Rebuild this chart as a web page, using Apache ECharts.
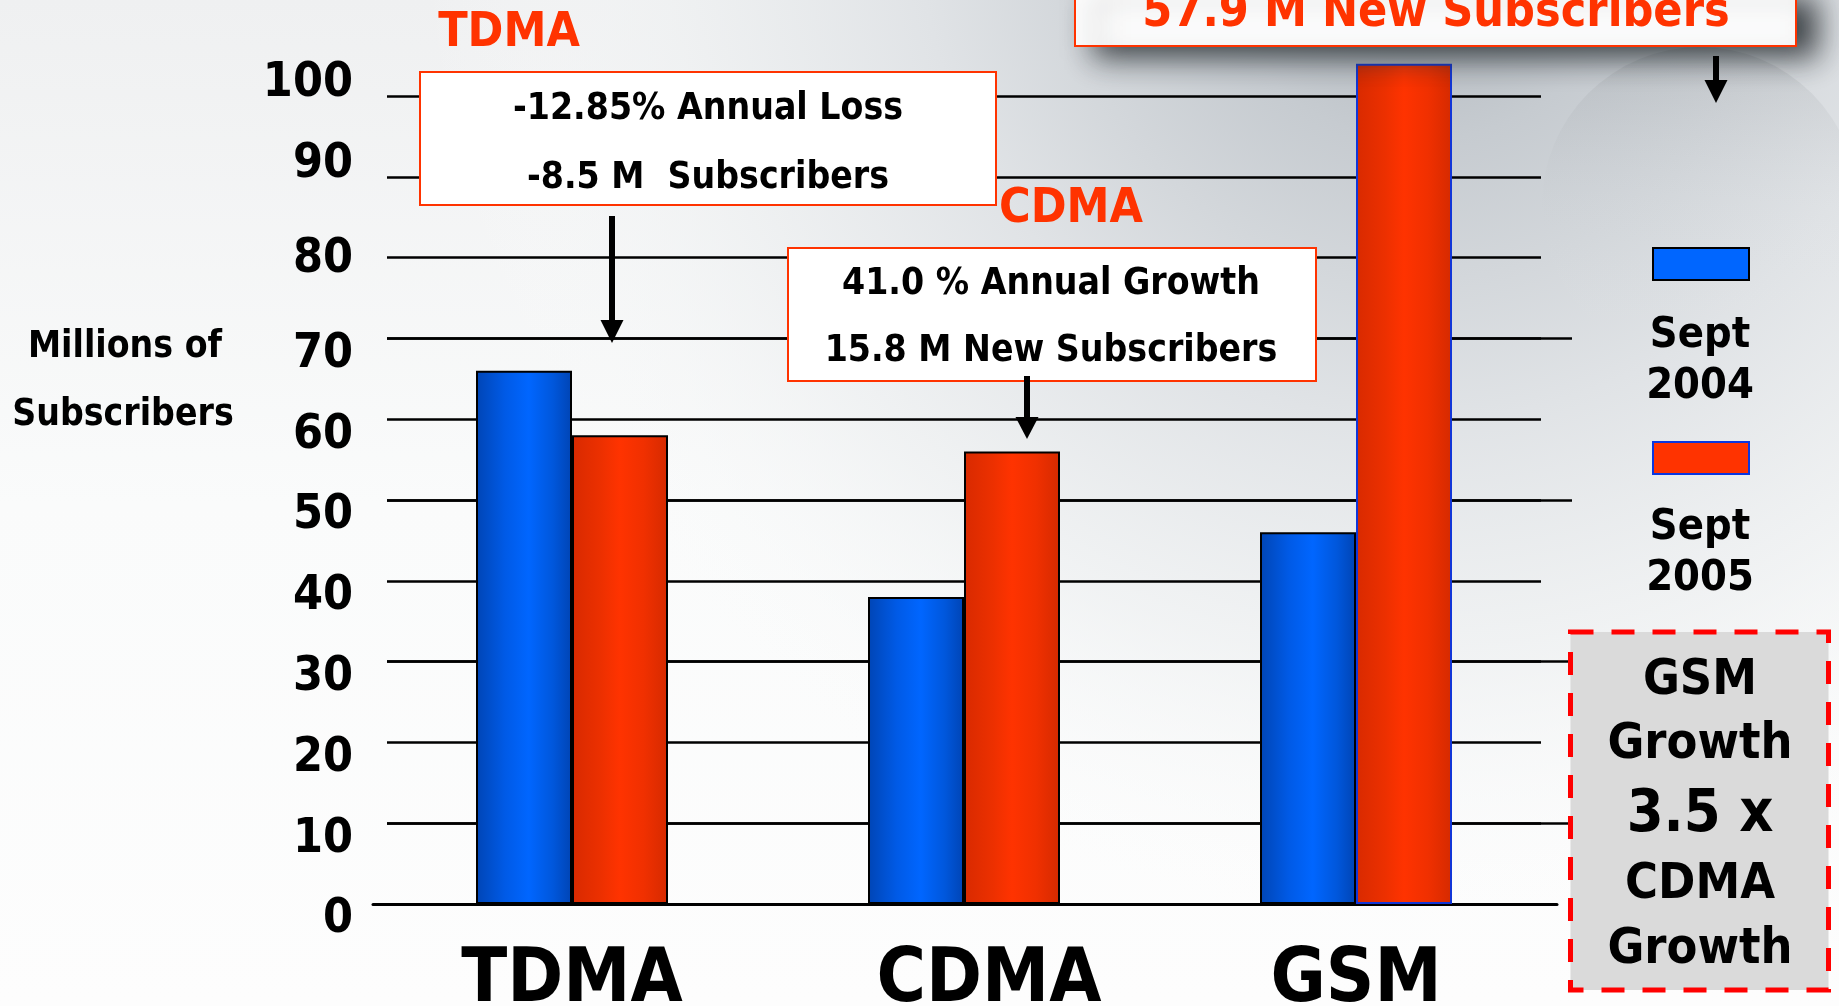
<!DOCTYPE html>
<html><head><meta charset="utf-8">
<script src="https://cdn.jsdelivr.net/npm/echarts@6/dist/echarts.min.js"></script>
<style>html,body{margin:0;padding:0;width:1839px;height:1006px;overflow:hidden;background:#fafbfb}#c{width:1839px;height:1006px}</style>
</head><body><div id="c"></div>
<script>
// ---- data ----
const categories = ['TDMA', 'CDMA', 'GSM'];
const seriesNames = ['Sept 2004', 'Sept 2005'];
const sept2004 = [66, 38, 46];
const sept2005 = [58, 56, 104];
const yMin = 0, yMax = 100, yStep = 10;
const yAxisTitle = ['Millions of', 'Subscribers'];
const tdmaNote = ['-12.85% Annual Loss', '-8.5 M  Subscribers'];
const cdmaNote = ['41.0 % Annual Growth', '15.8 M New Subscribers'];
const gsmNote = '57.9 M New Subscribers';
const gsmBox = ['GSM', 'Growth', '3.5 x', 'CDMA', 'Growth'];

// ---- styling ----
const FONT = '"DejaVu Sans Condensed","DejaVu Sans",sans-serif';
const RED = '#ff3300';
const G = echarts.graphic;
const blueGrad = new G.LinearGradient(0, 0, 1, 0, [
  {offset: 0, color: '#0045b5'}, {offset: 0.3, color: '#005ae6'},
  {offset: 0.55, color: '#0066ff'}, {offset: 0.8, color: '#0057dc'}, {offset: 1, color: '#0044b4'}]);
const redGrad = new G.LinearGradient(0, 0, 1, 0, [
  {offset: 0, color: '#d82a00'}, {offset: 0.3, color: '#ec3000'},
  {offset: 0.5, color: '#ff3300'}, {offset: 0.75, color: '#f03000'}, {offset: 1, color: '#d52a00'}]);

const TOP = 96, BOTTOM = 102;
function grid(left, right) { return {left, right, top: TOP, bottom: BOTTOM, containLabel: false, outerBoundsMode: 'none'}; }

const DY = 3;
function txt(text, x, y, size, color, z) {
  return {type: 'text', x, y: y + DY, z: z || 20, silent: true,
    style: {text, fill: color || '#000', font: 'bold ' + size + 'px ' + FONT, align: 'center', verticalAlign: 'middle'}};
}
function arrow(x, y0, yHead, yTip) {
  return [
    {type: 'rect', z: 15, silent: true, shape: {x: x - 3, y: y0, width: 6, height: yHead - y0 + 2}, style: {fill: '#000'}},
    {type: 'polygon', z: 15, silent: true, shape: {points: [[x - 11.5, yHead], [x + 11.5, yHead], [x, yTip]]}, style: {fill: '#000'}}
  ];
}
function box(x, y, w, h, extra) {
  return Object.assign({type: 'rect', z: 10, silent: true, shape: {x, y, width: w, height: h},
    style: {fill: '#ffffff', stroke: RED, lineWidth: 2}}, extra || {});
}

const extColors = [];
for (let v = yMin; v <= yMax; v += yStep) extColors.push((v >= 10 && v <= 70 && (v / 10) % 2 === 1) ? '#000' : 'rgba(0,0,0,0)');

const graphics = [
  {type: 'rect', z: -100, silent: true, shape: {x: 0, y: 0, width: 1839, height: 1006},
    style: {fill: new G.LinearGradient(0, 0, 0, 1, [{offset: 0, color: '#eff0f1'}, {offset: 0.5, color: '#fafbfb'}, {offset: 1, color: '#fdfdfd'}])}},
  {type: 'rect', z: -99, silent: true, shape: {x: 0, y: 0, width: 1839, height: 1006},
    style: {fill: new G.RadialGradient(1420, -80, 1000, [
      {offset: 0, color: 'rgba(170,176,182,1)'}, {offset: 0.22, color: 'rgba(198,203,208,1)'},
      {offset: 0.5, color: 'rgba(224,227,230,1)'}, {offset: 0.75, color: 'rgba(239,241,242,0.8)'},
      {offset: 1, color: 'rgba(250,251,251,0)'}], true)}},
  {type: 'circle', z: -98, silent: true, shape: {cx: 1700, cy: 205, r: 158},
    style: {fill: new G.LinearGradient(0, 0, 0, 1, [{offset: 0, color: 'rgba(120,125,130,0.18)'}, {offset: 0.5, color: 'rgba(200,204,208,0.05)'}, {offset: 1, color: 'rgba(255,255,255,0)'}])}},
  // TDMA annotation
  txt('TDMA', 509, 31, 48, RED),
  box(420, 72, 576, 133),
  txt(tdmaNote[0], 708, 106, 37),
  txt(tdmaNote[1], 708, 175, 37),
  ...arrow(612, 216, 320, 343),
  // CDMA annotation
  txt('CDMA', 1071, 207, 48, RED),
  box(788, 248, 528, 133),
  txt(cdmaNote[0], 1051, 281, 37),
  txt(cdmaNote[1], 1051, 348, 37),
  ...arrow(1027, 376, 417, 439),
  // GSM annotation
  box(1075, -10, 721, 56, {style: {fill: '#ffffff', stroke: RED, lineWidth: 2, shadowColor: 'rgba(40,45,50,0.9)', shadowBlur: 30, shadowOffsetX: 20, shadowOffsetY: 10}}),
  txt(gsmNote, 1436, 11, 48, RED),
  ...arrow(1716, 56, 80, 103),
  // y axis title
  txt(yAxisTitle[0], 125, 344, 37),
  txt(yAxisTitle[1], 123, 412, 37),
  // legend labels
  txt('Sept', 1700, 333, 43), txt('2004', 1700, 384, 43),
  txt('Sept', 1700, 525, 43), txt('2005', 1700, 576, 43),
  // dashed box
  {type: 'rect', z: 10, silent: true, shape: {x: 1570.5, y: 632, width: 258, height: 358},
    style: {fill: '#dadada', stroke: '#ff0000', lineWidth: 5, lineDash: [23, 18]}},
  txt(gsmBox[0], 1700, 678, 50), txt(gsmBox[1], 1700, 742, 50),
  txt(gsmBox[2], 1700, 813, 59), txt(gsmBox[3], 1700, 882, 50),
  txt(gsmBox[4], 1700, 947, 50)
];

const option = {
  animation: false,
  backgroundColor: '#fafbfb',
  grid: [grid(387, 298), grid(376, 287), grid(387, 267), grid(373, 282)],
  legend: {
    orient: 'vertical', left: 1652, top: 247, padding: 0, itemWidth: 96, itemHeight: 32, itemGap: 160,
    icon: 'rect', selectedMode: false, formatter: () => '', textStyle: {fontSize: 1},
    data: [
      {name: seriesNames[0], itemStyle: {color: '#0066ff', borderColor: '#000', borderWidth: 2}},
      {name: seriesNames[1], itemStyle: {color: '#ff3300', borderColor: '#0a36e0', borderWidth: 2}}
    ]
  },
  xAxis: [
    {gridIndex: 0, type: 'category', data: categories, show: false},
    {gridIndex: 1, type: 'category', data: categories,
      axisLine: {show: false}, axisTick: {show: false}, splitLine: {show: false},
      axisLabel: {interval: 0, hideOverlap: false, margin: 40, color: '#000', fontSize: 75, fontWeight: 'bold', fontFamily: FONT, lineHeight: 75,
        formatter: v => v === 'CDMA' ? '{s|' + v + '}' : v,
        rich: {s: {fontSize: 75, fontWeight: 'bold', fontFamily: FONT, color: '#000', lineHeight: 75, padding: [0, 0, 0, 50]}}}},
    {gridIndex: 2, type: 'category', data: categories, show: false},
    {gridIndex: 3, type: 'category', data: categories,
      axisLine: {show: true, lineStyle: {color: '#000', width: 3}}, axisTick: {show: false}, axisLabel: {show: false}, splitLine: {show: false}}
  ],
  yAxis: [
    {gridIndex: 0, type: 'value', min: yMin, max: yMax, interval: yStep,
      axisLine: {show: false}, axisTick: {show: false},
      splitLine: {show: true, lineStyle: {color: '#000', width: 2.5}},
      axisLabel: {margin: 34, color: '#000', fontSize: 48, fontWeight: 'bold', fontFamily: FONT,
        formatter: v => (v >= 90 ? '{h|' : v === 80 ? '{m|' : '{l|') + v + '}',
        rich: {
          h: {fontSize: 48, fontWeight: 'bold', fontFamily: FONT, color: '#000', padding: [0, 0, 24, 0]},
          m: {fontSize: 48, fontWeight: 'bold', fontFamily: FONT, color: '#000', padding: [4, 0, 0, 0]},
          l: {fontSize: 48, fontWeight: 'bold', fontFamily: FONT, color: '#000', padding: [32, 0, 0, 0]}
        }}},
    {gridIndex: 1, type: 'value', min: yMin, max: yMax, interval: yStep, show: false, splitLine: {show: false}},
    {gridIndex: 2, type: 'value', min: yMin, max: yMax, interval: yStep,
      axisLine: {show: false}, axisTick: {show: false}, axisLabel: {show: false},
      splitLine: {show: true, lineStyle: {color: extColors, width: 2.5}}},
    {gridIndex: 3, type: 'value', min: yMin, max: yMax, interval: yStep, show: false, splitLine: {show: false}}
  ],
  series: [
    {type: 'bar', name: seriesNames[0], xAxisIndex: 1, yAxisIndex: 1, data: sept2004,
      barWidth: 96, barGap: '0%', clip: false,
      itemStyle: {color: blueGrad, borderColor: '#000', borderWidth: 2}},
    {type: 'bar', name: seriesNames[1], xAxisIndex: 1, yAxisIndex: 1,
      data: sept2005.map((v, i) => categories[i] === 'GSM' ? {value: v, itemStyle: {borderColor: '#1236d8'}} : v),
      barWidth: 96, barGap: '0%', clip: false,
      itemStyle: {color: redGrad, borderColor: '#000', borderWidth: 2}}
  ],
  graphic: graphics
};
const chart = echarts.init(document.getElementById('c'), null, {renderer: 'canvas', width: 1839, height: 1006});
chart.setOption(option);
</script>
</body></html>
